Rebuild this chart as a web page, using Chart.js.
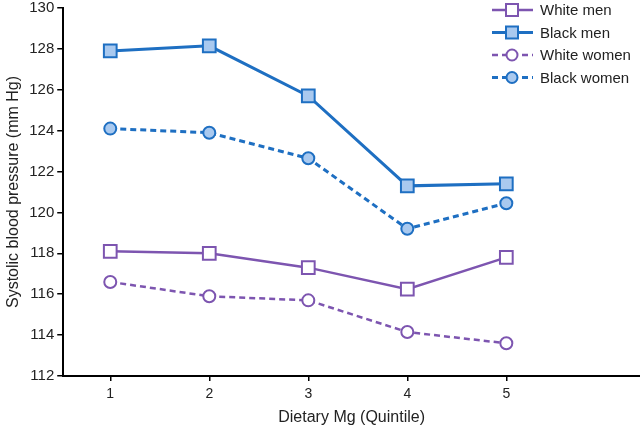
<!DOCTYPE html>
<html>
<head>
<meta charset="utf-8">
<script src="https://cdn.jsdelivr.net/npm/chart.js@4"></script>
<style>
  html, body { margin: 0; padding: 0; background: #fff; }
  #wrap { width: 640px; height: 429px; }
</style>
</head>
<body>
<div id="wrap"><canvas id="bp"></canvas></div>
<script>
// Data
const quintiles = [1, 2, 3, 4, 5];
const whiteMen = [118.1, 118.0, 117.3, 116.25, 117.8];
const blackMen = [127.9, 128.15, 125.7, 121.3, 121.4];
const whiteWomen = [116.6, 115.9, 115.7, 114.15, 113.6];
const blackWomen = [124.1, 123.9, 122.65, 119.2, 120.45];

const PURPLE = "#7d55b0";
const BLUE = "#1e6fc2";
const LIGHT = "#a9c9ef";
const FONT = "'Liberation Sans', Arial, sans-serif";

function pts(vals) {
  return quintiles.map((q, i) => ({ x: q, y: vals[i] }));
}

// legend drawn at top right: line + marker + label
const legendPlugin = {
  id: "lineLegend",
  afterDraw(chart) {
    const ctx = chart.ctx;
    ctx.save();
    chart.data.datasets.forEach((ds, i) => {
      const y = 10 + i * 22.5;
      ctx.strokeStyle = ds.borderColor;
      ctx.lineWidth = ds.borderWidth;
      ctx.setLineDash(ds.borderDash || []);
      ctx.beginPath();
      ctx.moveTo(492, y);
      ctx.lineTo(533, y);
      ctx.stroke();
      ctx.setLineDash([]);
      ctx.fillStyle = ds.pointBackgroundColor;
      ctx.lineWidth = 2;
      ctx.beginPath();
      if (ds.pointStyle === "rect") {
        ctx.rect(506, y - 6, 12, 12);
      } else {
        ctx.arc(512, y, 5.5, 0, 2 * Math.PI);
      }
      ctx.fill();
      ctx.stroke();
      ctx.fillStyle = "#222";
      ctx.font = "15px " + FONT;
      ctx.textBaseline = "middle";
      ctx.fillText(ds.label, 540, y + 1);
    });
    ctx.restore();
  }
};

new Chart("bp", {
  type: "line",
  data: {
    datasets: [{
      label: "White men",
      data: pts(whiteMen),
      borderColor: PURPLE,
      borderWidth: 2.5,
      pointStyle: "rect",
      pointRadius: 9,
      pointBorderWidth: 2,
      pointBackgroundColor: "#ffffff",
      pointBorderColor: PURPLE
    }, {
      label: "Black men",
      data: pts(blackMen),
      borderColor: BLUE,
      borderWidth: 3,
      pointStyle: "rect",
      pointRadius: 9,
      pointBorderWidth: 2,
      pointBackgroundColor: LIGHT,
      pointBorderColor: BLUE
    }, {
      label: "White women",
      data: pts(whiteWomen),
      borderColor: PURPLE,
      borderWidth: 2.5,
      borderDash: [6, 4],
      pointStyle: "circle",
      pointRadius: 6,
      pointBorderWidth: 2,
      pointBackgroundColor: "#ffffff",
      pointBorderColor: PURPLE
    }, {
      label: "Black women",
      data: pts(blackWomen),
      borderColor: BLUE,
      borderWidth: 3,
      borderDash: [6, 4],
      pointStyle: "circle",
      pointRadius: 6,
      pointBorderWidth: 2,
      pointBackgroundColor: LIGHT,
      pointBorderColor: BLUE
    }]
  },
  options: {
    responsive: true,
    maintainAspectRatio: false,
    animation: false,
    layout: { autoPadding: false, padding: { top: 0, right: 0, left: 0, bottom: 2 } },
    plugins: {
      legend: { display: false },
      tooltip: { enabled: false }
    },
    scales: {
      x: {
        type: "linear",
        min: 0.525,
        max: 6.35,
        afterBuildTicks(axis) {
          axis.ticks = quintiles.map(q => ({ value: q }));
        },
        ticks: {
          color: "#222",
          font: { family: FONT, size: 14 },
          padding: 5
        },
        grid: { drawOnChartArea: false, drawTicks: true, tickLength: 5, color: "#000", lineWidth: 1.5 },
        border: { color: "#000", width: 2 },
        title: {
          display: true,
          text: "Dietary Mg (Quintile)",
          color: "#222",
          font: { family: FONT, size: 16 },
          padding: { top: 0, bottom: 0 }
        }
      },
      y: {
        min: 112,
        max: 130,
        afterFit(axis) {
          axis.paddingTop = 8;
        },
        ticks: {
          stepSize: 2,
          color: "#222",
          font: { family: FONT, size: 15 },
          padding: 3
        },
        grid: { drawOnChartArea: false, drawTicks: true, tickLength: 6, color: "#000", lineWidth: 1.5 },
        border: { color: "#000", width: 2 },
        title: {
          display: true,
          text: "Systolic blood pressure (mm Hg)",
          color: "#222",
          font: { family: FONT, size: 16 },
          padding: { bottom: 3 }
        }
      }
    }
  },
  plugins: [legendPlugin]
});
</script>
</body>
</html>
